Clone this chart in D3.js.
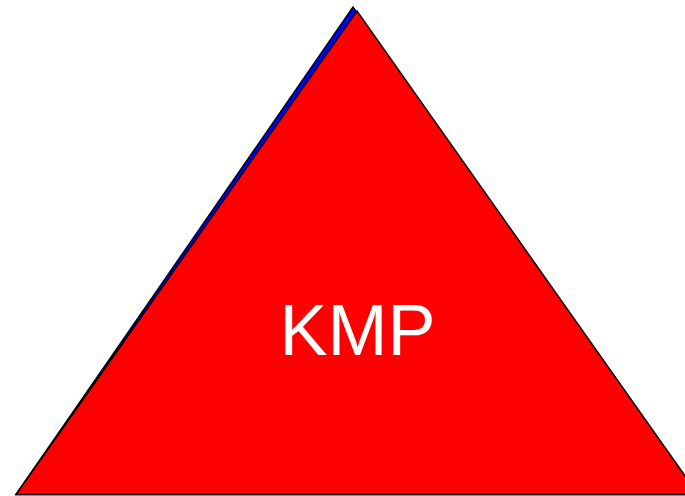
<!DOCTYPE html>
<html>
<head>
<meta charset="utf-8">
<script src="https://cdn.jsdelivr.net/npm/d3@7"></script>
<style>
  html, body { margin: 0; padding: 0; background: #fff; overflow: hidden; }
  svg { display: block; }
</style>
</head>
<body>
<div class="chart_container"></div>
<script>
// pyramid layers (top to bottom) and their values
const layers = ["KMP"];
const layerValues = [1];
const layerColors = ["#ff0000"];
const shadowColor = "#0000ff";

const width = 685;
const height = 496;

// scales: horizontal half-width in [-1,1], vertical level in [0,1]
const xScale = d3.scaleLinear().domain([-1, 1]).range([16, 698]);
const yScale = d3.scaleLinear().domain([0, d3.sum(layerValues)]).range([494.5, 11]);

const svg = d3.select(".chart_container")
    .append("svg")
    .attr("width", width)
    .attr("height", height);

const total = d3.sum(layerValues);
let acc = 0;
const bands = layerValues.map((v, i) => {
    const lo = acc;
    acc += v;
    return { name: layers[i], color: layerColors[i], lo: lo, hi: acc };
});

// width of the pyramid at a given level
const halfAt = (lvl) => 1 - lvl / total;

// dx, dy shift only the top edge (used for the shadow)
const bandPoints = (d, dx = 0, dy = 0) => {
    const top = halfAt(d.hi);
    const bot = halfAt(d.lo);
    return [
        [xScale(-bot), yScale(d.lo)],
        [xScale(-top) + dx, yScale(d.hi) + dy],
        [xScale(top) + dx, yScale(d.hi) + dy],
        [xScale(bot), yScale(d.lo)]
    ];
};

const line = d3.line();

// shadow behind the pyramid
svg.append("g")
    .selectAll("path")
    .data(bands)
    .enter()
    .append("path")
    .attr("d", (d) => line(bandPoints(d, -4, -4)) + "Z")
    .attr("fill", shadowColor)
    .attr("stroke", "#000")
    .attr("stroke-width", 1.5);

// pyramid bands
svg.append("g")
    .selectAll("path")
    .data(bands)
    .enter()
    .append("path")
    .attr("d", (d) => line(bandPoints(d)) + "Z")
    .attr("fill", (d) => d.color)
    .attr("stroke", "#000")
    .attr("stroke-width", 1.5);

// labels
svg.append("g")
    .selectAll("text")
    .data(bands)
    .enter()
    .append("text")
    .attr("x", xScale(0) + 0.5)
    .attr("y", (d) => yScale(d.lo + (d.hi - d.lo) * 0.288))
    .attr("text-anchor", "middle")
    .style("font-family", "Liberation Sans, Arial, sans-serif")
    .style("font-size", "72px")
    .style("fill", "#fff")
    .text((d) => d.name);
</script>
</body>
</html>
